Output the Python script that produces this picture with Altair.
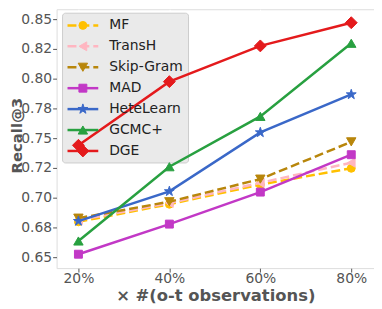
import math
import altair as alt
import pandas as pd

# ---- data ----
x_pct = [20, 40, 60, 80]
x_tick_labels = ["20%", "40%", "60%", "80%"]

series_names = ["MF", "TransH", "Skip-Gram", "MAD", "HeteLearn", "GCMC+", "DGE"]
mf = [0.6797, 0.6945, 0.7110, 0.7247]
transh = [0.6810, 0.6955, 0.7125, 0.7294]
skipgram = [0.6828, 0.6966, 0.7156, 0.7469]
mad = [0.6525, 0.6778, 0.7047, 0.7361]
hetelearn = [0.6803, 0.7053, 0.7548, 0.7867]
gcmc = [0.6636, 0.7260, 0.7683, 0.8297]
dge = [0.7440, 0.7975, 0.8275, 0.8470]
series_values = [mf, transh, skipgram, mad, hetelearn, gcmc, dge]

y_tick_values = [0.65, 0.675, 0.70, 0.725, 0.75, 0.775, 0.80, 0.825, 0.85]
y_tick_labels = ["0.65", "0.68", "0.70", "0.72", "0.75", "0.78", "0.80", "0.82", "0.85"]

# ---- styles ----
def star_path(inner=0.382):
    pts = []
    for k in range(10):
        r = 1.0 if k % 2 == 0 else inner
        a = math.radians(-90 + 36 * k)
        pts.append(f"{r * math.cos(a):.3f},{r * math.sin(a):.3f}")
    return "M" + "L".join(pts) + "Z"

colors = ["#FFC000", "#FFB6C1", "#B8860B", "#C238C6", "#3A68C8", "#28A040", "#E41A1C"]
shapes = ["circle", "triangle-left", "triangle-down", "square", star_path(), "triangle-up", "diamond"]
sizes = [64, 80, 90, 64, 110, 90, 144]
dashed = [True, True, True, False, False, False, False]

W, H = 320, 261
x_dom = [15.2, 85.0]
y_dom = [0.64083, 0.85833]

rows = []
for name, vals in zip(series_names, series_values):
    for xv, yv in zip(x_pct, vals):
        rows.append({"series": name, "pct": xv, "recall": yv})
df = pd.DataFrame(rows)

y_label_expr = "{" + ",".join(f"'{v}':'{l}'" for v, l in zip(y_tick_values, y_tick_labels)) + "}[toString(datum.value)]"
x_label_expr = "{" + ",".join(f"'{v}':'{l}'" for v, l in zip(x_pct, x_tick_labels)) + "}[toString(datum.value)]"

x_enc = alt.X(
    "pct:Q",
    scale=alt.Scale(domain=x_dom, nice=False, zero=False),
    axis=alt.Axis(values=x_pct, labelExpr=x_label_expr, title="× #(o-t observations)",
                  grid=True, gridColor="white", gridWidth=1,
                  domain=False, ticks=True, tickSize=4, tickColor="#555555",
                  labelFontSize=14, labelColor="#555555", labelPadding=0,
                  titleFontSize=16.5, titleFontWeight="bold", titleColor="#555555",
                  titlePadding=2),
)
y_enc = alt.Y(
    "recall:Q",
    scale=alt.Scale(domain=y_dom, nice=False, zero=False),
    axis=alt.Axis(values=y_tick_values, labelExpr=y_label_expr, title="Recall@3",
                  grid=True, gridColor="white", gridWidth=1,
                  domain=False, ticks=True, tickSize=4, tickColor="#555555",
                  labelFontSize=14, labelColor="#555555", labelPadding=1,
                  titleFontSize=15, titleFontWeight="bold", titleColor="#555555",
                  titleX=-47, titleY=127, titleBaseline="top", titleAngle=270,
                  titleAlign="center"),
)

# legend background (translucent, drawn under the data lines)
legend_bg = alt.Chart(pd.DataFrame({"k": [0]})).mark_rect(
    fill="#E5E5E5", fillOpacity=0.8, stroke="#CCCCCC", strokeWidth=1, cornerRadius=3
).encode(x=alt.value(6), x2=alt.value(133), y=alt.value(4), y2=alt.value(155))

base = alt.Chart(df)
data_layers = []
for i, name in enumerate(series_names):
    sub = base.transform_filter(alt.datum.series == name)
    line_kw = dict(color=colors[i], strokeWidth=2.5)
    if dashed[i]:
        line_kw["strokeDash"] = [9, 4]
    data_layers.append(sub.mark_line(**line_kw).encode(x=x_enc, y=y_enc))
    data_layers.append(
        sub.mark_point(shape=shapes[i], size=sizes[i], filled=True, color=colors[i],
                       stroke=colors[i], strokeWidth=1, opacity=1)
        .encode(x=x_enc, y=y_enc)
    )

legend_layers = []
for i, name in enumerate(series_names):
    ly = 16.3 + 21.1 * i
    ld = pd.DataFrame({"series": [name]})
    rule_kw = dict(color=colors[i], strokeWidth=2.5)
    if dashed[i]:
        rule_kw["strokeDash"] = [9, 4]
    legend_layers.append(
        alt.Chart(ld).mark_rule(**rule_kw).encode(
            x=alt.value(11), x2=alt.value(42), y=alt.value(ly))
    )
    legend_layers.append(
        alt.Chart(ld).mark_point(shape=shapes[i], size=sizes[i], filled=True, color=colors[i],
                                 stroke=colors[i], strokeWidth=1, opacity=1)
        .encode(x=alt.value(26.5), y=alt.value(ly))
    )
    legend_layers.append(
        alt.Chart(ld).mark_text(align="left", baseline="middle", fontSize=14, color="#222222",
                                font="DejaVu Sans")
        .encode(x=alt.value(53), y=alt.value(ly), text="series:N")
    )

chart = alt.layer(legend_bg, *data_layers, *legend_layers).properties(
    width=W, height=H,
    autosize=alt.AutoSizeParams(type="none"),
    padding={"left": 49, "top": 0, "right": 0, "bottom": 40},
    background="white",
).configure_view(fill="#E5E5E5", stroke=None).configure(font="DejaVu Sans")

chart.save("out.html", embed_options={"renderer": "svg", "actions": False})
